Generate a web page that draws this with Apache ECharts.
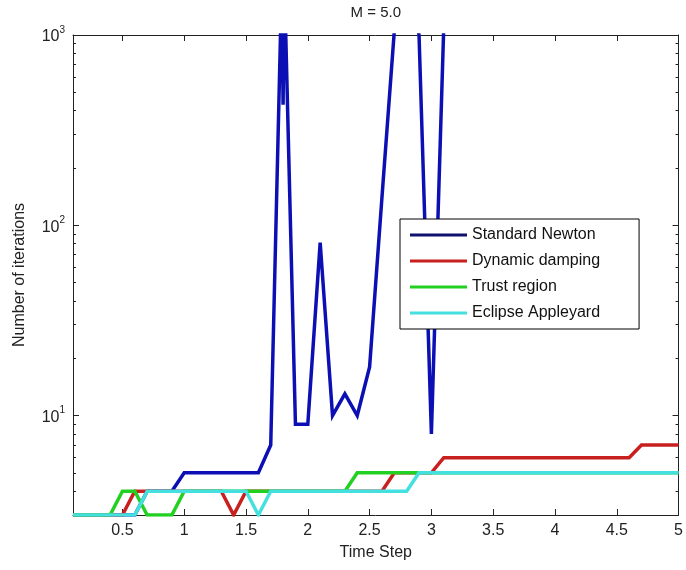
<!DOCTYPE html>
<html>
<head>
<meta charset="utf-8">
<script src="https://cdn.jsdelivr.net/npm/echarts@6/dist/echarts.min.js"></script>
<style>html,body{margin:0;padding:0;background:#fff}#c{width:686px;height:570px}</style>
</head>
<body>
<div id="c"></div>
<script>
// ---- data ----
const timeSteps = [0.1,0.2,0.3,0.4,0.5,0.6,0.7,0.8,0.9,1.0,
                   1.1,1.2,1.3,1.4,1.5,1.6,1.7,1.8,1.9,2.0,
                   2.1,2.2,2.3,2.4,2.5,2.6,2.7,2.8,2.9,3.0,
                   3.1,3.2,3.3,3.4,3.5,3.6,3.7,3.8,3.9,4.0,
                   4.1,4.2,4.3,4.4,4.5,4.6,4.7,4.8,4.9,5.0];
const newtonSteps = [0.1,0.2,0.3,0.4,0.5,0.6,0.7,0.8,0.9,1.0,
                     1.1,1.2,1.3,1.4,1.5,1.6,1.7,1.79,1.8,1.81,
                     1.9,2.0,2.1,2.2,2.3,2.4,2.5,2.6,2.7,2.8,
                     2.9,3.0,3.1];
const standardNewton = [3,3,3,3,3,3,4,4,4,5,
                        5,5,5,5,5,5,7,2000,430,2000,
                        9,9,81,10,13,10,18,140,1050,2000,
                        1000,8,1100];
const dynamicDamping = [3,3,3,3,3,4,4,4,4,4,
                        4,4,4,3,4,4,4,4,4,4,
                        4,4,4,4,4,4,5,5,5,5,
                        6,6,6,6,6,6,6,6,6,6,
                        6,6,6,6,6,6,7,7,7,7];
const trustRegion = [3,3,3,3,4,4,3,3,3,4,
                     4,4,4,4,4,4,4,4,4,4,
                     4,4,4,5,5,5,5,5,5,5,
                     5,5,5,5,5,5,5,5,5,5,
                     5,5,5,5,5,5,5,5,5,5];
const eclipseAppleyard = [3,3,3,3,3,3,4,4,4,4,
                          4,4,4,4,4,3,4,4,4,4,
                          4,4,4,4,4,4,4,4,5,5,
                          5,5,5,5,5,5,5,5,5,5,
                          5,5,5,5,5,5,5,5,5,5];
const seriesNames = ['Standard Newton','Dynamic damping','Trust region','Eclipse Appleyard'];
const xTicks = [0.5,1,1.5,2,2.5,3,3.5,4,4.5,5];
const yMajor = [10,100,1000];
const yMinor = [4,5,6,7,8,9,20,30,40,50,60,70,80,90,200,300,400,500,600,700,800,900];
const xMin = 0.1, xMax = 5, yMin = 3, yMax = 1000;

const colors = ['#0c10b4','#c8201e','#22d022','#44e0e0'];
const legendColors = ['#10106e','#c8201e','#22d022','#44e0e0'];
const axisColor = '#222';
const font = 'Arial, "Liberation Sans", Helvetica, sans-serif';

const lg = v => Math.log10(v);
const pairs = (xs, ys) => xs.map((x, i) => [x, ys[i]]);

const auxY = (pos, vals, len, withLabels, extra) => Object.assign({
  type: 'value', position: pos, min: lg(yMin), max: lg(yMax),
  axisLine: {show: withLabels !== null, onZero: false, lineStyle: {color: axisColor, width: 1}},
  axisTick: {show: true, inside: true, length: len, customValues: vals.map(lg),
             lineStyle: {color: axisColor, width: 1}},
  axisLabel: withLabels ? {
    show: true, customValues: yMajor.map(lg), margin: 8,
    formatter: v => '{b|10}{s|' + Math.round(v) + '}',
    rich: {
      b: {fontSize: 16, fontFamily: font, color: axisColor, lineHeight: 20, verticalAlign: 'bottom'},
      s: {fontSize: 10, fontFamily: font, color: axisColor, lineHeight: 20, verticalAlign: 'top', padding: [0,0,12,0]}
    }
  } : {show: false},
  splitLine: {show: false}
}, extra || {});

const chart = echarts.init(document.getElementById('c'), null, {renderer: 'canvas'});
const lineSeries = (name, data, color) => ({
  name, type: 'line', data, xAxisIndex: 0, yAxisIndex: 0,
  symbol: 'none', showSymbol: false, clip: true, animation: false,
  lineStyle: {color, width: 3.5, join: 'miter'}, itemStyle: {color}
});

chart.setOption({
  animation: false,
  backgroundColor: '#fff',
  grid: {left: 73, right: 5, top: 34, bottom: 55, containLabel: false},
  legend: {
    left: 400, top: 219, orient: 'vertical',
    data: seriesNames.map((n, i) => ({name: n, icon: 'rect', itemStyle: {color: legendColors[i]}})),
    itemWidth: 57, itemHeight: 3, itemGap: 8,
    backgroundColor: '#fff', borderColor: '#000', borderWidth: 1, borderRadius: 0,
    padding: [7, 39, 7, 10],
    textStyle: {fontSize: 16, fontFamily: font, color: '#111', lineHeight: 18}
  },
  xAxis: [
    {type: 'value', position: 'bottom', min: xMin, max: xMax,
     name: 'Time Step', nameLocation: 'middle', nameGap: 30,
     nameTextStyle: {fontSize: 16, fontFamily: font, color: axisColor},
     axisLine: {onZero: false, lineStyle: {color: axisColor, width: 1}},
     axisTick: {inside: true, length: 6, customValues: xTicks, lineStyle: {color: axisColor}},
     axisLabel: {customValues: xTicks, margin: 8, fontSize: 16, fontFamily: font, color: axisColor},
     splitLine: {show: false}},
    {type: 'value', position: 'top', min: xMin, max: xMax,
     name: 'M = 5.0', nameLocation: 'middle', nameGap: 15,
     nameTextStyle: {fontSize: 15, fontFamily: font, color: axisColor},
     axisLine: {onZero: false, lineStyle: {color: axisColor, width: 1}},
     axisTick: {inside: true, length: 6, customValues: xTicks, lineStyle: {color: axisColor}},
     axisLabel: {show: false}, splitLine: {show: false}}
  ],
  yAxis: [
    {type: 'log', logBase: 10, min: yMin, max: yMax, show: false, splitLine: {show: false}},
    auxY('left', yMajor, 6, true, {
      name: 'Number of iterations', nameLocation: 'middle', nameGap: 45, nameRotate: 90,
      nameTextStyle: {fontSize: 16, fontFamily: font, color: axisColor}}),
    auxY('left', yMinor, 3, null),
    auxY('right', yMajor, 6, false),
    auxY('right', yMinor, 3, null)
  ],
  series: [
    lineSeries(seriesNames[0], pairs(newtonSteps, standardNewton), colors[0]),
    lineSeries(seriesNames[1], pairs(timeSteps, dynamicDamping), colors[1]),
    lineSeries(seriesNames[2], pairs(timeSteps, trustRegion), colors[2]),
    lineSeries(seriesNames[3], pairs(timeSteps, eclipseAppleyard), colors[3])
  ]
});
</script>
</body>
</html>
